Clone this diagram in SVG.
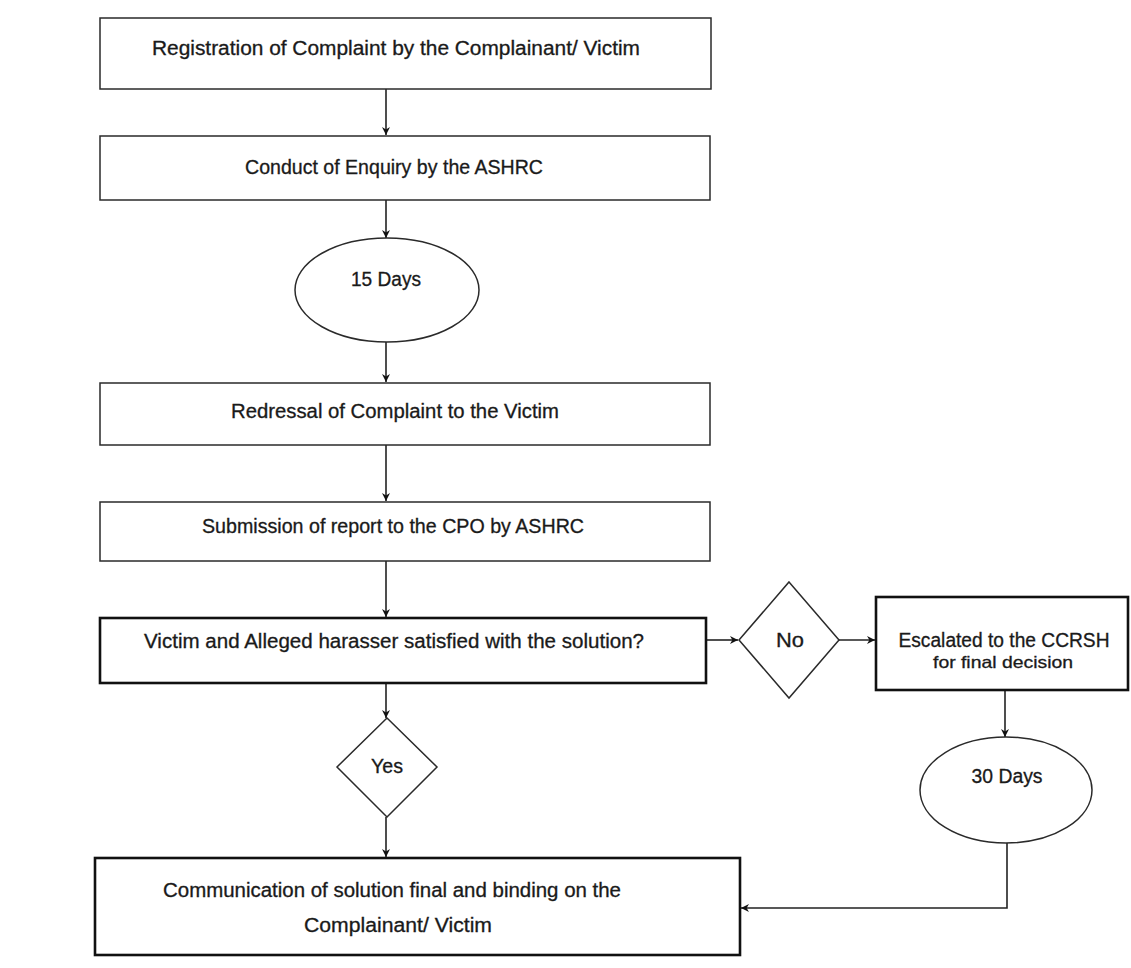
<svg xmlns="http://www.w3.org/2000/svg" width="1131" height="968" viewBox="0 0 1131 968">
<style>
.box{fill:#fff;stroke:#2a2a2a;stroke-width:1.5}
.thick{stroke-width:2.6;stroke:#111}
.t{font-family:"Liberation Sans",Arial,sans-serif;font-size:19.5px;fill:#1a1a1a;stroke:#1a1a1a;stroke-width:0.3;text-anchor:middle}
.s{font-size:16.5px}
.c{fill:none;stroke:#222;stroke-width:1.6}
</style>
<defs>
<marker id="ah" viewBox="0 0 10 10" refX="10" refY="5" markerWidth="8" markerHeight="8" markerUnits="userSpaceOnUse" orient="auto">
<path d="M0,0 L10,5 L0,10 L3,5 Z" fill="#111"/>
</marker>
</defs>
<rect width="1131" height="968" fill="#fff"/>
<g id="connectors">
<line class="c" x1="386" y1="89" x2="386" y2="135" marker-end="url(#ah)"/>
<line class="c" x1="386" y1="200" x2="386" y2="238" marker-end="url(#ah)"/>
<line class="c" x1="386" y1="342" x2="386" y2="382" marker-end="url(#ah)"/>
<line class="c" x1="386" y1="445" x2="386" y2="501" marker-end="url(#ah)"/>
<line class="c" x1="386" y1="561" x2="386" y2="617" marker-end="url(#ah)"/>
<line class="c" x1="706" y1="640" x2="738" y2="640" marker-end="url(#ah)"/>
<line class="c" x1="839" y1="640" x2="875" y2="640" marker-end="url(#ah)"/>
<line class="c" x1="1005" y1="690" x2="1005" y2="737" marker-end="url(#ah)"/>
<line class="c" x1="386" y1="683" x2="386" y2="718" marker-end="url(#ah)"/>
<line class="c" x1="386" y1="817" x2="386" y2="857" marker-end="url(#ah)"/>
<polyline class="c" points="1007,843 1007,908 741,908" marker-end="url(#ah)"/>
</g>
<g id="n1">
<rect class="box" x="100" y="18" width="611" height="71"/>
<text class="t" x="396" y="55" textLength="488" lengthAdjust="spacingAndGlyphs">Registration of Complaint by the Complainant/ Victim</text>
</g>
<g id="n2">
<rect class="box" x="100" y="136" width="610" height="64"/>
<text class="t" x="394" y="174" textLength="298" lengthAdjust="spacingAndGlyphs">Conduct of Enquiry by the ASHRC</text>
</g>
<g id="n3">
<ellipse class="box" cx="387" cy="290" rx="92" ry="52"/>
<text class="t" x="386" y="286" textLength="70" lengthAdjust="spacingAndGlyphs">15 Days</text>
</g>
<g id="n4">
<rect class="box" x="100" y="383" width="610" height="62"/>
<text class="t" x="395" y="418" textLength="328" lengthAdjust="spacingAndGlyphs">Redressal of Complaint to the Victim</text>
</g>
<g id="n5">
<rect class="box" x="100" y="502" width="610" height="59"/>
<text class="t" x="393" y="533" textLength="382" lengthAdjust="spacingAndGlyphs">Submission of report to the CPO by ASHRC</text>
</g>
<g id="n6">
<rect class="box thick" x="100" y="618" width="606" height="65"/>
<text class="t" x="394" y="648" textLength="500" lengthAdjust="spacingAndGlyphs">Victim and Alleged harasser satisfied with the solution?</text>
</g>
<g id="n7">
<polygon class="box" points="789,582 839,640 789,698 739,640"/>
<text class="t" x="790" y="647" textLength="28" lengthAdjust="spacingAndGlyphs">No</text>
</g>
<g id="n8">
<rect class="box thick" x="876" y="597" width="252" height="93"/>
<text class="t" x="1004" y="647" textLength="211" lengthAdjust="spacingAndGlyphs">Escalated to the CCRSH</text>
<text class="t s" x="1003" y="668" textLength="140" lengthAdjust="spacingAndGlyphs">for final decision</text>
</g>
<g id="n9">
<ellipse class="box" cx="1006" cy="790" rx="86" ry="53"/>
<text class="t" x="1007" y="783" textLength="71" lengthAdjust="spacingAndGlyphs">30 Days</text>
</g>
<g id="n10">
<polygon class="box" points="387,718 437,767 387,817 337,767"/>
<text class="t" x="387" y="773" textLength="32" lengthAdjust="spacingAndGlyphs">Yes</text>
</g>
<g id="n11">
<rect class="box thick" x="95" y="858" width="645" height="97"/>
<text class="t" x="392" y="897" textLength="458" lengthAdjust="spacingAndGlyphs">Communication of solution final and binding on the</text>
<text class="t" x="398" y="932" textLength="188" lengthAdjust="spacingAndGlyphs">Complainant/ Victim</text>
</g>
</svg>
